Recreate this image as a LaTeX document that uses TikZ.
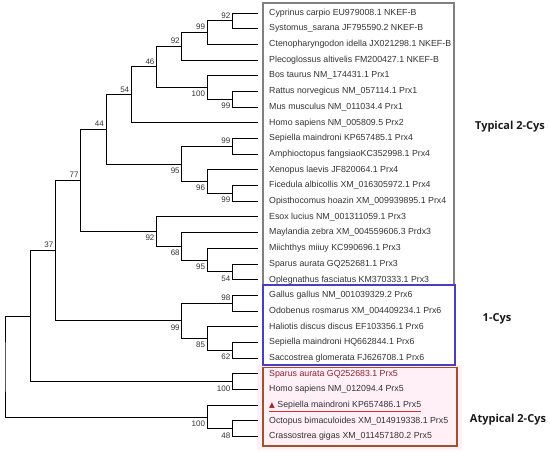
\documentclass[tikz,border=0pt]{standalone}
\usepackage{fontspec}
\setmainfont{Liberation Sans}
\newfontfamily\grpfont{Open Sans}
\newfontfamily\symfont{DejaVu Sans}
\usetikzlibrary{calc,positioning}

\definecolor{leafgray}{HTML}{333333}
\definecolor{boxgray}{HTML}{808080}
\definecolor{boxblue}{HTML}{4B3FC0}
\definecolor{boxbrown}{HTML}{A0522D}
\definecolor{atyppink}{HTML}{FEF0F6}
\definecolor{atypred}{HTML}{8B2232}
\definecolor{markred}{HTML}{B22222}
\definecolor{linered}{HTML}{D0342C}

\tikzstyle{branch} = [draw=black, line width=1pt]
\tikzstyle{leaf} = [anchor=west, inner sep=0pt, text=leafgray, font=\fontsize{8.8}{10}\selectfont]
\tikzstyle{bsup} = [anchor=south east, inner sep=1pt, xshift=-1pt, yshift=1.5pt, text=leafgray, font=\fontsize{8}{9}\selectfont]
\tikzstyle{bsdn} = [anchor=north east, inner sep=1pt, xshift=-1pt, yshift=-2.5pt, text=leafgray, font=\fontsize{8}{9}\selectfont]
\tikzstyle{grp} = [font=\grpfont\bfseries\fontsize{11}{13}\selectfont, text=black!90]

\newcommand{\clade}[4]{%
  \path let \p1 = ($(#3)!.5!(#4)$) in coordinate (#1) at ({5pt+#2*25.27pt},\y1);
  \draw[branch] (#3) -| (#1) |- (#4);
}
\newcommand{\boot}[3]{\node[#2] (bs#1) at (#1) {#3};}

\begin{document}
\begin{tikzpicture}[x=1pt, y=-1pt]
    \useasboundingbox (0,0) rectangle (550,453);

    \fill[atyppink] (257,365) rectangle (462,450);
    \draw[boxgray, line width=1.2pt] (263,3) rectangle (454,285);
    \draw[boxblue, line width=1.6pt] (263,285) rectangle (455,365);
    \draw[boxbrown, line width=1.6pt] (263,367.5) rectangle (457,446);

    \foreach \lbl [count=\i] in {Cyprinus carpio EU979008.1 NKEF-B,
        Systomus\_sarana JF795590.2 NKEF-B,
        Ctenopharyngodon idella JX021298.1 NKEF-B,
        Plecoglossus altivelis FM200427.1 NKEF-B,
        Bos taurus NM\_174431.1 Prx1,
        Rattus norvegicus NM\_057114.1 Prx1,
        Mus musculus NM\_011034.4 Prx1,
        Homo sapiens NM\_005809.5 Prx2,
        Sepiella maindroni KP657485.1 Prx4,
        Amphioctopus fangsiaoKC352998.1 Prx4,
        Xenopus laevis JF820064.1 Prx4,
        Ficedula albicollis XM\_016305972.1 Prx4,
        Opisthocomus hoazin XM\_009939895.1 Prx4,
        Esox lucius NM\_001311059.1 Prx3,
        Maylandia zebra XM\_004559606.3 Prdx3,
        Miichthys miiuy KC990696.1 Prx3,
        Sparus aurata GQ252681.1 Prx3,
        Oplegnathus fasciatus KM370333.1 Prx3,
        Gallus gallus NM\_001039329.2 Prx6,
        Odobenus rosmarus XM\_004409234.1 Prx6,
        Haliotis discus discus EF103356.1 Prx6,
        Sepiella maindroni HQ662844.1 Prx6,
        Saccostrea glomerata FJ626708.1 Prx6,
        \textcolor{atypred}{Sparus aurata GQ252683.1 Prx5},
        Homo sapiens NM\_012094.4 Prx5,
        {\symfont\fontsize{7.5}{8}\selectfont\textcolor{markred}{▲}} Sepiella maindroni KP657486.1 Prx5,
        Octopus bimaculoides XM\_014919338.1 Prx5,
        Crassostrea gigas XM\_011457180.2 Prx5}
    {
        \coordinate (t\i) at (258,{13+15.69*(\i-1)});
        \node[leaf] (l\i) at ([xshift=11pt]t\i) {\lbl};
    };
    \draw[linered, line width=1.1pt] ([yshift=-1.5pt]l26.south west) -- ([yshift=-1.5pt]l26.south east);

    \clade{nA}{9}{t1}{t2}    \boot{nA}{bsup}{92}
    \clade{nB}{8}{nA}{t3}    \boot{nB}{bsup}{99}
    \clade{nC}{7}{nB}{t4}    \boot{nC}{bsup}{92}
    \clade{nRM}{9}{t6}{t7}   \boot{nRM}{bsdn}{99}
    \clade{nE}{8}{t5}{nRM}   \boot{nE}{bsdn}{100}
    \clade{nD}{6}{nC}{nE}    \boot{nD}{bsup}{46}
    \clade{nF}{5}{nD}{t8}    \boot{nF}{bsup}{54}
    \clade{nSA}{9}{t9}{t10}  \boot{nSA}{bsup}{99}
    \clade{nFO}{9}{t12}{t13} \boot{nFO}{bsdn}{99}
    \clade{nI}{8}{t11}{nFO}  \boot{nI}{bsdn}{96}
    \clade{nH}{7}{nSA}{nI}   \boot{nH}{bsdn}{95}
    \clade{nG}{4}{nF}{nH}    \boot{nG}{bsup}{44}
    \clade{nO}{9}{t17}{t18}  \boot{nO}{bsdn}{54}
    \clade{nN}{8}{t16}{nO}   \boot{nN}{bsdn}{95}
    \clade{nM}{7}{t15}{nN}   \boot{nM}{bsdn}{68}
    \clade{nL}{6}{t14}{nM}   \boot{nL}{bsdn}{92}
    \clade{nK}{3}{nG}{nL}    \boot{nK}{bsup}{77}
    \clade{nR}{9}{t19}{t20}  \boot{nR}{bsup}{98}
    \clade{nT}{9}{t22}{t23}  \boot{nT}{bsdn}{62}
    \clade{nS}{8}{t21}{nT}   \boot{nS}{bsdn}{85}
    \clade{nQ}{7}{nR}{nS}    \boot{nQ}{bsdn}{99}
    \clade{nP}{2}{nK}{nQ}    \boot{nP}{bsup}{37}
    \clade{nV}{9}{t24}{t25}  \boot{nV}{bsdn}{100}
    \clade{nU}{1}{nP}{nV}
    \clade{nX}{9}{t27}{t28}  \boot{nX}{bsdn}{48}
    \clade{nW}{8}{t26}{nX}   \boot{nW}{bsdn}{100}
    \clade{root}{0}{nU}{nW}

    \node[grp] (typ) at (510,127) {Typical 2-Cys};
    \node[grp] (onecys) at (497,319) {1-Cys};
    \node[grp] (atyp) at (508,420) {Atypical 2-Cys};
\end{tikzpicture}
\end{document}
